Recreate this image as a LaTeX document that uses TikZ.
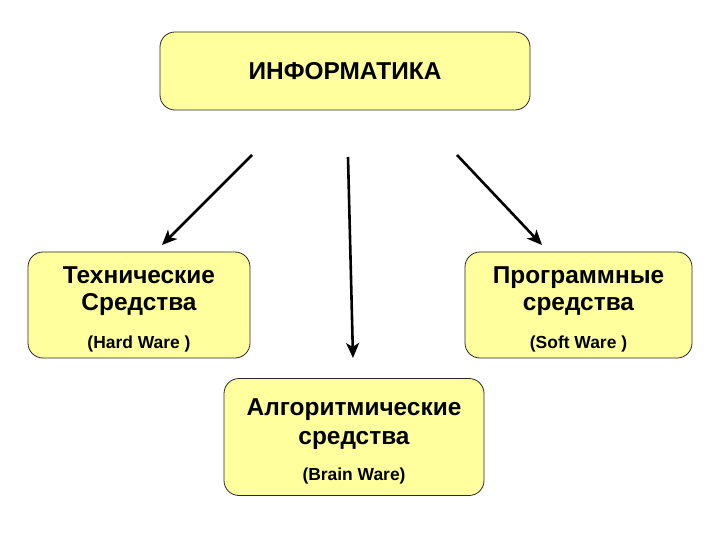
\documentclass[tikz,border=0pt]{standalone}
\usepackage{fontspec}
\setmainfont{Liberation Sans}
\usepackage{tikz}
\usetikzlibrary{positioning,arrows.meta}
\definecolor{boxfill}{RGB}{255,255,158}
\definecolor{boxrule}{RGB}{40,40,40}
\tikzset{
  block/.style={rectangle,rounded corners=15bp,draw=boxrule,line width=0.8bp,fill=boxfill,align=center,inner sep=0pt,font=\bfseries\fontsize{24.5}{27}\selectfont},
  edge/.style={-{Stealth[length=15bp,width=13bp,inset=4bp]},line width=2.6bp}
}
\newcommand{\subtext}[1]{{\bfseries\fontsize{17.5}{20}\selectfont #1}}
\newcommand{\topstrut}{\rule{0pt}{26bp}}

\begin{document}
\begin{tikzpicture}[x=1bp,y=-1bp]
  \useasboundingbox (0,0) rectangle (720,540);
  \node[block,minimum width=370bp,minimum height=78bp] (info) at (345,71) {ИНФОРМАТИКА};
  \node[block,minimum width=222bp,minimum height=106bp] (hard) at (139,305)
    {\topstrut Технические\\Средства\\[11bp]\subtext{(Hard Ware )}};
  \node[block,minimum width=227bp,minimum height=106bp] (soft) at (578.5,305)
    {\topstrut Программные\\средства\\[11bp]\subtext{(Soft Ware )}};
  \node[block,minimum width=260bp,minimum height=117bp] (brain) at (354,437)
    {\topstrut Алгоритмические\\[2bp]средства\\[9bp]\subtext{(Brain Ware)}};
  % free ends of the arrows
  \coordinate (hardfrom) at (252,155);
  \coordinate (hardto) at (162,245);
  \coordinate (brainfrom) at (348,157);
  \coordinate (brainto) at (353,358);
  \coordinate (softfrom) at (457,155);
  \coordinate (softto) at (542,245);
  \draw[edge] (hardfrom) -- (hardto);
  \draw[edge] (brainfrom) -- (brainto);
  \draw[edge] (softfrom) -- (softto);
\end{tikzpicture}
\end{document}
